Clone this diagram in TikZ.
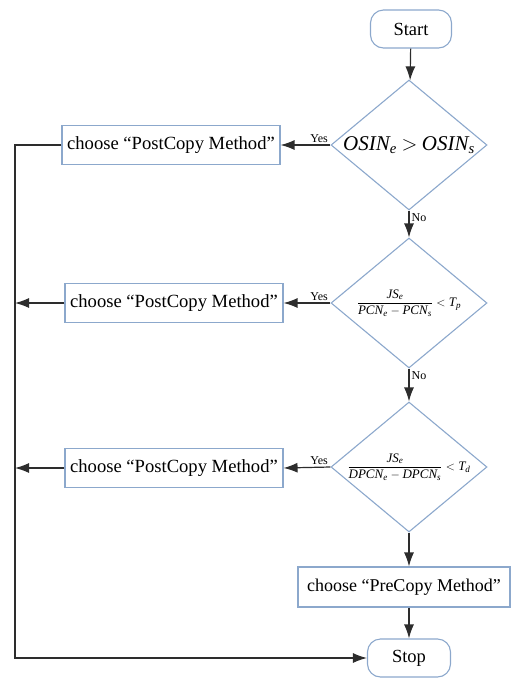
\documentclass[tikz,border=0pt]{standalone}
\usepackage{fontspec}
\setmainfont{Liberation Serif}
\usetikzlibrary{shapes.geometric,arrows.meta}
\definecolor{bordc}{RGB}{140,168,204}
\definecolor{linec}{RGB}{45,45,45}
\begin{document}
\begin{tikzpicture}[x=1pt,y=-1pt,
  nodeline/.style={draw=bordc, line width=1.1pt},
  term/.style={nodeline, rectangle, rounded corners=13pt, minimum width=81pt, minimum height=38pt, inner sep=0pt, font=\fontsize{18.5}{20}\selectfont},
  proc/.style={nodeline, rectangle, minimum height=39pt, inner sep=0pt, font=\fontsize{18.6}{21}\selectfont},
  dec/.style={nodeline, diamond, minimum width=156pt, minimum height=130pt, inner sep=0pt},
  arr/.style={draw=linec, line width=1.2pt, -{Latex[length=14pt,width=10pt]}},
  lab/.style={font=\fontsize{12}{14}\selectfont, inner sep=2pt},
  frac/.style={font=\fontsize{13}{15}\selectfont}
]
\useasboundingbox (0,0) rectangle (511,681);

\node[term] (start) at (411,29) {Start};
\node[dec, label={[font=\fontsize{21}{23}\selectfont]center:$\mathit{OSIN}_{\mathit{e}}\mathbin{>}\mathit{OSIN}_{\mathit{s}}$}] (d1) at (409,145) {};
\node[dec, label={[frac]center:$\displaystyle\frac{\mathit{JS}_{\mathit{e}}}{\mathit{PCN}_{\mathit{e}}-\mathit{PCN}_{\mathit{s}}} < \mathit{T}_{\mathit{p}}$}] (d2) at (409,303) {};
\node[dec, label={[frac]center:$\displaystyle\frac{\mathit{JS}_{\mathit{e}}}{\mathit{DPCN}_{\mathit{e}}-\mathit{DPCN}_{\mathit{s}}} < \mathit{T}_{\mathit{d}}$}] (d3) at (409,467) {};

\node[proc, minimum width=218pt] (b1) at (171,145) {choose “PostCopy Method”};
\node[proc, minimum width=218pt] (b2) at (174,303) {choose “PostCopy Method”};
\node[proc, minimum width=218pt] (b3) at (174,468) {choose “PostCopy Method”};
\node[proc, minimum width=212pt, minimum height=40pt, font=\fontsize{18}{20}\selectfont] (pre) at (404,587) {choose “PreCopy Method”};
\node[term, minimum width=83pt] (stop) at (409,658) {Stop};

\coordinate (jx) at (15,145);

\draw[arr] (start) -- (d1);
\draw[arr] (d1.west) -- node[lab, pos=0, anchor=south east] {Yes} (b1.east);
\draw[arr] (d1.south) -- node[lab, pos=0, anchor=north west] {No} (d2.north);
\draw[arr] (d2.west) -- node[lab, pos=0, anchor=south east] {Yes} (b2.east);
\draw[arr] (d2.south) -- node[lab, pos=0, anchor=north west] {No} (d3.north);
\draw[arr] (d3.west) -- node[lab, pos=0, anchor=south east] {Yes} (b3.east);
\draw[arr] (d3.south) -- (d3.south |- pre.north);
\draw[arr] (pre.south -| stop.north) -- (stop.north);

\draw[arr] (b1.west) -- (jx) |- (stop.west);
\draw[arr] (b2.west) -- (b2.west -| jx);
\draw[arr] (b3.west) -- (b3.west -| jx);
\end{tikzpicture}
\end{document}
